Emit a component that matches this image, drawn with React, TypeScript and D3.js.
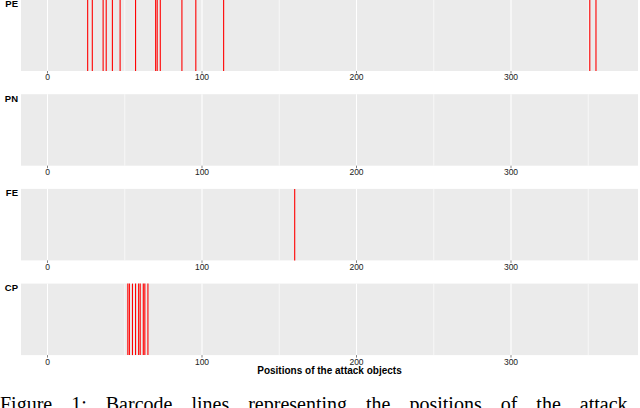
import React from "react";
import * as d3 from "d3";

// facets, top to bottom
const panels = ["PE", "PN", "FE", "CP"];

// positions of attack objects per facet
const pePositions = [26, 29, 36, 38, 42, 47, 57, 70, 71, 73, 87, 96, 114, 351, 355];
const pnPositions: number[] = [];
const fePositions = [160];
const cpPositions = [52, 53, 55, 57, 59, 60, 62, 63, 65];

const majorTicks = [0, 100, 200, 300];
const minorTicks = [50, 150, 250, 350];

const axisTitle = "Positions of the attack objects";
const caption = "Figure 1: Barcode lines representing the positions of the attack";

const width = 640;
const height = 408;
const panelLeft = 21;
const panelRight = 638;

const App = () => {
  const positions: Record<string, number[]> = {
    PE: pePositions,
    PN: pnPositions,
    FE: fePositions,
    CP: cpPositions,
  };

  // x scale: 0 -> 47.5px, 300 -> 511px
  const x = d3.scaleLinear().domain([0, 300]).range([47.5, 511]);

  // vertical placement of the facets
  const y = d3
    .scaleBand()
    .domain(panels)
    .range([-0.5, 355.1])
    .paddingInner(0.245);

  const bh = y.bandwidth();
  const sans = "'Liberation Sans', Arial, sans-serif";

  return (
    <svg
      width={width}
      height={height}
      style={{ position: "absolute", left: 0, top: 0, background: "#fff" }}
    >
      {panels.map((p) => {
        const top = y(p) as number;
        const bottom = top + bh;
        return (
          <g key={p}>
            <rect x={panelLeft} y={top} width={panelRight - panelLeft} height={bh} fill="#ebebeb" />
            {minorTicks.map((t) => (
              <line key={"m" + t} x1={x(t)} x2={x(t)} y1={top} y2={bottom} stroke="#fff" strokeWidth={0.6} />
            ))}
            {majorTicks.map((t) => (
              <line key={"M" + t} x1={x(t)} x2={x(t)} y1={top} y2={bottom} stroke="#fff" strokeWidth={1.1} />
            ))}
            {positions[p].map((v, i) => (
              <line key={i} x1={x(v)} x2={x(v)} y1={top} y2={bottom} stroke="#ff0000" strokeWidth={1.1} />
            ))}
            {majorTicks.map((t) => (
              <g key={"t" + t}>
                <line x1={x(t)} x2={x(t)} y1={bottom} y2={bottom + 2.5} stroke="#333" strokeWidth={0.6} />
                <text
                  x={x(t)}
                  y={bottom + 9.5}
                  textAnchor="middle"
                  fontFamily={sans}
                  fontSize={8.5}
                  fill="#222"
                >
                  {t}
                </text>
              </g>
            ))}
            <text
              x={18}
              y={top + 7.5}
              textAnchor="end"
              fontFamily={sans}
              fontSize={9.5}
              fontWeight="bold"
              fill="#000"
            >
              {p}
            </text>
          </g>
        );
      })}
      <text
        x={(panelLeft + panelRight) / 2}
        y={373.5}
        textAnchor="middle"
        fontFamily={sans}
        fontSize={10}
        fontWeight="bold"
        fill="#000"
      >
        {axisTitle}
      </text>
      <text
        x={0}
        y={411}
        fontFamily="'Liberation Serif', 'Times New Roman', serif"
        fontSize={20}
        fill="#000"
        wordSpacing={14}
      >
        {caption}
      </text>
    </svg>
  );
};

export default App;
